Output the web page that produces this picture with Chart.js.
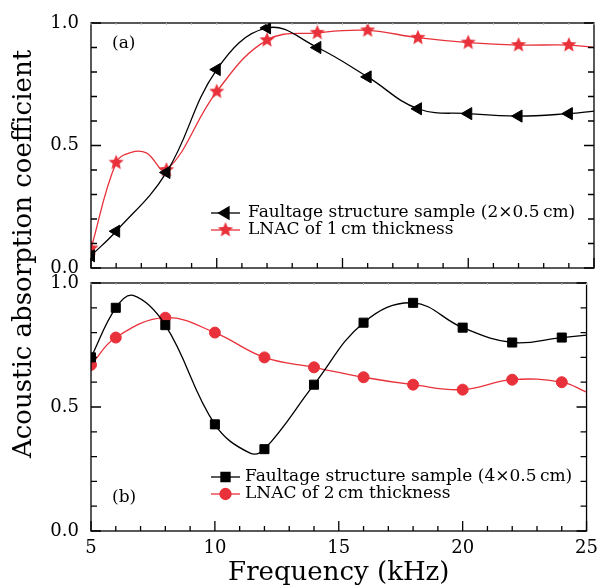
<!DOCTYPE html>
<html>
<head>
<meta charset="utf-8">
<script src="https://cdn.jsdelivr.net/npm/chart.js@4.4.0/dist/chart.umd.min.js"></script>
<style>
  html, body { margin: 0; padding: 0; background: #fff; }
  #wrap { position: relative; width: 605px; height: 585px; }
  #wrap canvas { position: absolute; left: 0; top: 0; }
</style>
</head>
<body>
<div id="wrap">
  <canvas id="chartA" width="605" height="585"></canvas>
  <canvas id="chartB" width="605" height="585"></canvas>
</div>
<script>
const FONT = '"DejaVu Serif", serif';
const RED = '#e8313a';

// frequency (kHz) / absorption.
// Markers sit on the even frequencies up to 24 kHz; the other points only
// shape the curve where it bends between markers.

// panel (a)
const faultAX = [5, 6, 8, 10, 12, 14, 16, 18, 20, 22, 24, 25];
const faultAY = [0.05, 0.15, 0.39, 0.81, 0.98, 0.90, 0.78, 0.65, 0.63, 0.62, 0.63, 0.64];
const lnacAX = [5, 6, 6.6, 7.2, 8, 10, 12, 14, 16, 18, 20, 22, 24, 25];
const lnacAY = [0.08, 0.43, 0.472, 0.47, 0.40, 0.72, 0.93, 0.96, 0.97, 0.94, 0.92, 0.91, 0.91, 0.90];

// panel (b)
const faultBX = [5, 6, 6.7, 8, 10, 11.4, 12, 14, 16, 18, 20, 22, 24, 25];
const faultBY = [0.70, 0.90, 0.95, 0.83, 0.43, 0.315, 0.33, 0.59, 0.84, 0.92, 0.82, 0.76, 0.78, 0.79];
const lnacBX = [5, 6, 8, 10, 12, 14, 16, 18, 20, 22, 24, 25];
const lnacBY = [0.67, 0.78, 0.86, 0.80, 0.70, 0.66, 0.62, 0.59, 0.57, 0.61, 0.60, 0.56];

const labelsA = ['Faultage structure sample (2\u00d70.5\u2009cm)', 'LNAC of 1\u2009cm thickness'];
const labelsB = ['Faultage structure sample (4\u00d70.5\u2009cm)', 'LNAC of 2\u2009cm thickness'];

function toPoints(xs, ys) {
  return xs.map((x, i) => ({ x: x, y: ys[i] }));
}

// filled five-point star, used as an image point style
function starImage(r, color) {
  const c = document.createElement('canvas');
  const s = Math.ceil(r * 2 + 2);
  c.width = s; c.height = s;
  const g = c.getContext('2d');
  g.beginPath();
  for (let i = 0; i < 10; i++) {
    const a = -Math.PI / 2 + i * Math.PI / 5;
    const rad = i % 2 ? r * 0.45 : r;
    g.lineTo(s / 2 + rad * Math.cos(a), s / 2 + rad * Math.sin(a));
  }
  g.closePath();
  g.fillStyle = color;
  g.fill();
  return c;
}
const star = starImage(8, RED);

function markerRadius(r) {
  return (ctx) => {
    const x = ctx.raw ? ctx.raw.x : 0;
    return Number.isInteger(x) && x <= 24 && (x % 2 === 0 || x === 5) ? r : 0;
  };
}

function series(label, xs, ys, color, style, r, rotation) {
  return {
    label: label,
    data: toPoints(xs, ys),
    borderColor: color,
    backgroundColor: color,
    borderWidth: 1.3,
    tension: 0.4,
    pointStyle: style,
    pointRotation: rotation || 0,
    pointRadius: markerRadius(r),
    pointBorderWidth: 1,
    pointBorderColor: color,
    pointBackgroundColor: color,
  };
}

function isMajorY(v) {
  return Math.abs(v * 2 - Math.round(v * 2)) < 1e-6;
}

const framePlugin = {
  id: 'frame',
  afterDraw(chart, args, opts) {
    const { ctx, chartArea: a, scales } = chart;
    ctx.save();
    ctx.strokeStyle = '#000';
    ctx.lineWidth = 1.3;
    ctx.strokeRect(a.left, a.top, a.right - a.left, a.bottom - a.top);

    ctx.beginPath();
    scales.x.ticks.forEach((t) => {
      const px = scales.x.getPixelForValue(t.value);
      const len = Math.round(t.value) % 5 === 0 ? 10 : 5;
      ctx.moveTo(px, a.bottom);
      ctx.lineTo(px, a.bottom - len);
    });
    scales.y.ticks.forEach((t) => {
      const py = scales.y.getPixelForValue(t.value);
      const len = isMajorY(t.value) ? 10 : 6;
      ctx.moveTo(a.left, py);
      ctx.lineTo(a.left + len, py);
      ctx.moveTo(a.right, py);
      ctx.lineTo(a.right - len, py);
    });
    ctx.stroke();

    // faint short ticks on the top edge
    ctx.beginPath();
    ctx.strokeStyle = '#bbb';
    ctx.lineWidth = 1;
    scales.x.ticks.forEach((t) => {
      const px = scales.x.getPixelForValue(t.value);
      ctx.moveTo(px, a.top);
      ctx.lineTo(px, a.top + 2);
    });
    ctx.stroke();

    // panel tag
    ctx.fillStyle = '#000';
    ctx.font = '17px ' + FONT;
    ctx.textBaseline = 'middle';
    ctx.textAlign = 'left';
    ctx.fillText(opts.tag, opts.tagX, opts.tagY);

    // legend
    const ds = chart.data.datasets;
    opts.legendY.forEach((ly, i) => {
      const d = ds[i];
      ctx.strokeStyle = d.borderColor;
      ctx.lineWidth = 1.3;
      ctx.beginPath();
      ctx.moveTo(opts.legendX0, ly);
      ctx.lineTo(opts.legendX1, ly);
      ctx.stroke();
      ctx.fillStyle = d.backgroundColor;
      const mx = (opts.legendX0 + opts.legendX1) / 2;
      if (Chart.helpers && Chart.helpers.drawPoint) {
        Chart.helpers.drawPoint(ctx, {
          pointStyle: d.pointStyle,
          rotation: d.pointRotation,
          radius: opts.legendR[i],
          borderWidth: 1,
        }, mx, ly);
      }
      ctx.fillStyle = '#000';
      ctx.font = '17px ' + FONT;
      ctx.fillText(d.label, opts.legendText, ly);
    });

    // shared y title
    if (opts.yTitle) {
      ctx.save();
      ctx.translate(24, 254);
      ctx.rotate(-Math.PI / 2);
      ctx.textAlign = 'center';
      ctx.font = '26px ' + FONT;
      ctx.fillText(opts.yTitle, 0, 0);
      ctx.restore();
    }
    ctx.restore();
  },
};

function baseOptions(padding, showX, frameOpts) {
  return {
    responsive: false,
    animation: false,
    layout: { padding: padding },
    plugins: {
      legend: { display: false },
      tooltip: { enabled: false },
      frame: frameOpts,
    },
    scales: {
      x: {
        type: 'linear',
        min: 5,
        max: 25,
        grid: { display: false, drawTicks: false },
        border: { display: false },
        ticks: {
          display: showX,
          stepSize: 1,
          autoSkip: false,
          maxRotation: 0,
          padding: 7,
          color: '#000',
          font: { family: FONT, size: 18 },
          callback: (v) => (v % 5 === 0 ? String(v) : ''),
        },
        title: {
          display: showX,
          text: 'Frequency (kHz)',
          color: '#000',
          font: { family: FONT, size: 26 },
          padding: { top: 0, bottom: -4 },
        },
        afterFit: (s) => { s.height = showX ? 54 : 0; },
      },
      y: {
        min: 0,
        max: 1,
        grid: { display: false, drawTicks: false },
        border: { display: false },
        ticks: {
          stepSize: 0.1,
          autoSkip: false,
          padding: 12,
          color: '#000',
          font: { family: FONT, size: 18 },
          callback: (v) => (isMajorY(v) ? v.toFixed(1) : ''),
        },
        afterFit: (s) => { s.width = 91; },
      },
    },
  };
}

new Chart(document.getElementById('chartA'), {
  type: 'line',
  data: {
    datasets: [
      series(labelsA[0], faultAX, faultAY, '#000', 'triangle', 7, -90),
      series(labelsA[1], lnacAX, lnacAY, RED, star, 8, 0),
    ],
  },
  options: baseOptions({ left: 0, right: 11, top: 23, bottom: 317 }, false, {
    tag: '(a)', tagX: 112, tagY: 44,
    legendX0: 211, legendX1: 240, legendText: 248,
    legendY: [213, 230], legendR: [7, 8],
  }),
  plugins: [framePlugin],
});

new Chart(document.getElementById('chartB'), {
  type: 'line',
  data: {
    datasets: [
      series(labelsB[0], faultBX, faultBY, '#000', 'rect', 6.4, 0),
      series(labelsB[1], lnacBX, lnacBY, RED, 'circle', 5.5, 0),
    ],
  },
  options: baseOptions({ left: 0, right: 11, top: 283, bottom: 0 }, true, {
    tag: '(b)', tagX: 112, tagY: 498,
    legendX0: 211, legendX1: 240, legendText: 245,
    legendY: [477, 494], legendR: [6.4, 5.5],
    yTitle: 'Acoustic absorption coefficient',
  }),
  plugins: [framePlugin],
});
</script>
</body>
</html>
